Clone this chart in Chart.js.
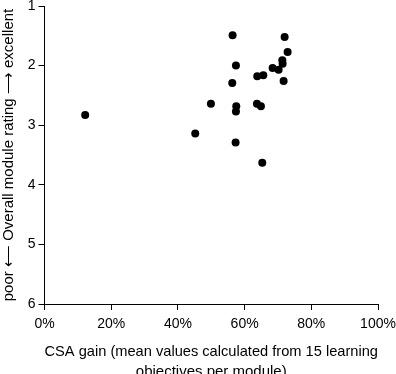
<!DOCTYPE html>
<html>
<head>
<meta charset="utf-8">
<script src="https://cdn.jsdelivr.net/npm/chart.js@4"></script>
<style>
  html, body { margin: 0; padding: 0; background: #fff; }
  canvas { display: block; }
</style>
</head>
<body>
<canvas id="chart" width="396" height="374"></canvas>
<script>
// CSA gain (%) per module, and overall module rating (1 = excellent, 6 = poor)
const csaGain = [56.4, 72.0, 72.9, 71.3, 71.4, 68.4, 70.2, 57.4, 63.8, 65.6, 71.7, 56.3, 49.9, 57.5, 57.4, 63.7, 64.9, 45.2, 57.3, 65.3, 12.2];
const moduleRating = [1.49, 1.52, 1.77, 1.91, 1.97, 2.04, 2.07, 2.0, 2.18, 2.16, 2.26, 2.29, 2.64, 2.68, 2.77, 2.64, 2.68, 3.14, 3.29, 3.63, 2.83];
const xTitle = ['CSA gain (mean values calculated from 15 learning', 'objectives per module)'];
const yTitle = 'poor \u27F5 Overall module rating \u27F6 excellent';

Chart.defaults.font.family = "'Liberation Sans', Arial, sans-serif";
Chart.defaults.font.size = 14;
Chart.defaults.color = '#000';

const points = csaGain.map((x, i) => ({ x: x, y: moduleRating[i] }));

const ctx = document.getElementById('chart').getContext('2d');
new Chart(ctx, {
  type: 'scatter',
  data: {
    datasets: [
      {
        data: points,
        backgroundColor: '#000',
        borderWidth: 0,
        pointRadius: 4,
        pointHoverRadius: 4,
      },
    ],
  },
  options: {
    responsive: false,
    animation: false,
    layout: { padding: { top: 6, right: 18, left: 0, bottom: 0 } },
    plugins: {
      legend: { display: false },
      tooltip: { enabled: false },
    },
    scales: {
      x: {
        type: 'linear',
        min: 0,
        max: 100,
        ticks: {
          stepSize: 20,
          padding: 6,
          callback: (v) => v + '%',
        },
        grid: { drawOnChartArea: false, drawTicks: true, tickLength: 6, color: '#000' },
        border: { display: true, color: '#000', width: 1 },
        title: {
          display: true,
          text: xTitle,
          font: { size: 15, lineHeight: '20px' },
          padding: { top: 0, bottom: -8 },
        },
        afterFit: (scale) => {
          scale.height = 70;
          scale.paddingLeft = 0;
          scale.paddingRight = 0;
        },
      },
      y: {
        type: 'linear',
        reverse: true,
        min: 1,
        max: 6,
        ticks: { stepSize: 1, padding: 3 },
        grid: { drawOnChartArea: false, drawTicks: true, tickLength: 6, color: '#000' },
        border: { display: true, color: '#000', width: 1 },
        title: {
          display: true,
          text: yTitle,
          font: { size: 15 },
          padding: 0,
        },
        afterFit: (scale) => {
          scale.width = 44.5;
          scale.paddingTop = 0;
          scale.paddingBottom = 0;
        },
      },
    },
  },
});
</script>
</body>
</html>
